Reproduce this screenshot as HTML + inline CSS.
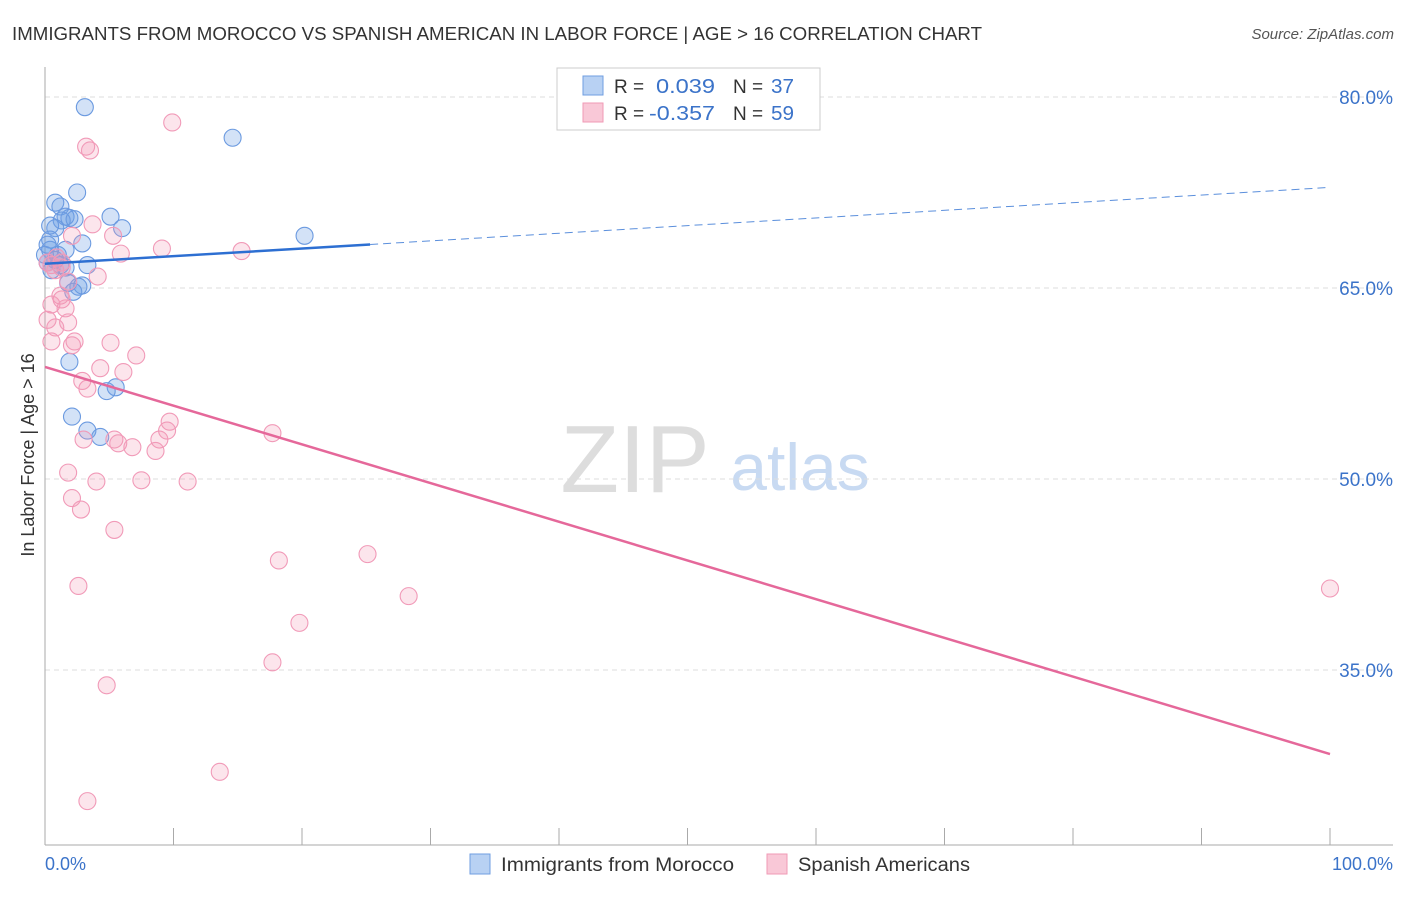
<!DOCTYPE html>
<html><head><meta charset="utf-8"><style>
body{margin:0;background:#fff;font-family:"Liberation Sans",sans-serif}
svg text{font-family:"Liberation Sans",sans-serif}
</style></head><body>
<svg width="1406" height="892">
<text x="12" y="40" font-size="18" fill="#333" textLength="970" lengthAdjust="spacingAndGlyphs">IMMIGRANTS FROM MOROCCO VS SPANISH AMERICAN IN LABOR FORCE | AGE &gt; 16 CORRELATION CHART</text>
<text x="1394" y="39" font-size="15" fill="#555" font-style="italic" text-anchor="end">Source: ZipAtlas.com</text>
<text x="635" y="492" font-size="96" fill="#ddd" font-family="Liberation Serif" text-anchor="middle">ZIP</text>
<text x="800" y="490" font-size="66" fill="#c8daf2" text-anchor="middle">atlas</text>
<g id="grid"></g><g id="axes"></g><g id="pts"></g><g id="lines"></g>
<text x="34" y="455" font-size="18" fill="#333" transform="rotate(-90 34 455)" text-anchor="middle">In Labor Force | Age &gt; 16</text>
<text x="45" y="870" font-size="18" fill="#3b73c9">0.0%</text>
<text x="1393" y="870" font-size="18" fill="#3b73c9" text-anchor="end">100.0%</text>
<g>
<rect x="557" y="68" width="263" height="62" fill="#fff" stroke="#ccc"/>
<rect x="583" y="76" width="20" height="19" fill="#b8d1f3" stroke="#6f9ee0"/>
<rect x="583" y="103" width="20" height="19" fill="#f9c8d7" stroke="#f09ab6"/>
<text x="614" y="93" font-size="19" fill="#333">R =</text>
<text x="656" y="93" font-size="20" fill="#3b73c9" textLength="59" lengthAdjust="spacingAndGlyphs">0.039</text>
<text x="733" y="93" font-size="19" fill="#333">N =</text>
<text x="771" y="93" font-size="20" fill="#3b73c9" textLength="23" lengthAdjust="spacingAndGlyphs">37</text>
<text x="614" y="120" font-size="19" fill="#333">R =</text>
<text x="649" y="120" font-size="20" fill="#3b73c9" textLength="66" lengthAdjust="spacingAndGlyphs">-0.357</text>
<text x="733" y="120" font-size="19" fill="#333">N =</text>
<text x="771" y="120" font-size="20" fill="#3b73c9" textLength="23" lengthAdjust="spacingAndGlyphs">59</text>
</g>
<g>
<rect x="470" y="854" width="20" height="20" fill="#b8d1f3" stroke="#6f9ee0"/>
<text x="501" y="871" font-size="19" fill="#333" textLength="233" lengthAdjust="spacingAndGlyphs">Immigrants from Morocco</text>
<rect x="767" y="854" width="20" height="20" fill="#f9c8d7" stroke="#f09ab6"/>
<text x="798" y="871" font-size="19" fill="#333" textLength="172" lengthAdjust="spacingAndGlyphs">Spanish Americans</text>
</g>
</svg>
<script>
const yTicks=[80,65,50,35];
const blueX=[3.1,14.6,2.5,0.8,1.2,1.6,1.9,1.3,2.3,5.1,6.0,0.8,0.4,2.9,1.6,0.4,1.0,0.8,0.2,3.3,1.6,1.8,2.9,2.6,2.2,20.2,1.9,2.1,5.5,4.8,3.3,4.3,0.4,0.2,1.2,0.5,0];
const blueY=[79.2,76.8,72.5,71.7,71.4,70.6,70.5,70.3,70.4,70.6,69.7,69.7,68.8,68.5,68.0,68.0,67.6,67.2,67.0,66.8,66.6,65.4,65.2,65.1,64.7,69.1,59.2,54.9,57.2,56.9,53.8,53.3,69.9,68.4,66.8,66.4,67.6];
const pinkX=[9.9,3.2,3.5,3.7,5.3,9.1,15.3,5.9,2.1,0.5,0.8,1.3,4.1,1.8,1.2,1.3,0.5,1.6,0.2,1.8,0.8,0.5,2.3,5.1,2.1,7.1,2.9,4.3,6.1,3.3,9.7,9.5,8.9,5.4,5.7,3.0,6.8,8.6,17.7,1.8,4.0,7.5,11.1,2.1,2.8,5.4,25.1,18.2,2.6,28.3,19.8,17.7,4.8,13.6,3.3,100,0.2,0.9,1.3];
const pinkY=[78.0,76.1,75.8,70.0,69.1,68.1,67.9,67.7,69.1,66.8,66.4,66.6,65.9,65.5,64.4,64.1,63.7,63.4,62.5,62.3,61.9,60.8,60.8,60.7,60.5,59.7,57.7,58.7,58.4,57.1,54.5,53.8,53.1,53.1,52.8,53.1,52.5,52.2,53.6,50.5,49.8,49.9,49.8,48.5,47.6,46.0,44.1,43.6,41.6,40.8,38.7,35.6,33.8,27.0,24.7,41.4,67.0,67.4,67.0];
const blueTrend=[66.9,72.9];
const pinkTrend=[58.8,28.4];
const NS="http://www.w3.org/2000/svg";
const sx=v=>45+v*12.85, sy=v=>97+(80-v)*12.733;
function mk(t,a,p){const e=document.createElementNS(NS,t);for(const k in a)e.setAttribute(k,a[k]);p.appendChild(e);return e;}
const grid=document.getElementById('grid'),axes=document.getElementById('axes'),pts=document.getElementById('pts'),lines=document.getElementById('lines');
yTicks.forEach(t=>{
 const l=mk('line',{x1:45,x2:1393,y1:sy(t),y2:sy(t),stroke:'#ddd','stroke-dasharray':'5,4'},grid);
 
 
 const tx=mk('text',{x:1393,y:sy(t)+7,'font-size':19,fill:'#3b73c9','text-anchor':'end'},grid);
 tx.textContent=t.toFixed(1)+'%';
 
 
});
const ya=mk('line',{x1:45,x2:45,y1:67,y2:845,stroke:'#aaa'},axes);


const xa=mk('line',{x1:45,x2:1393,y1:845,y2:845,stroke:'#aaa'},axes);


for(let i=0;i<=10;i++){const t=mk('line',{x1:sx(i*10),x2:sx(i*10),y1:828,y2:845,stroke:'#aaa'},axes);
 
 }
blueX.forEach((x,i)=>{const c=mk('circle',{cx:sx(x),cy:sy(blueY[i]),r:8.5,fill:'rgba(110,158,230,0.3)',stroke:'#6b9ae0','stroke-width':1.1},pts);
 
 });
pinkX.forEach((x,i)=>{const c=mk('circle',{cx:sx(x),cy:sy(pinkY[i]),r:8.5,fill:'rgba(244,150,180,0.25)',stroke:'#f19ab8','stroke-width':1.1},pts);
 
 });
const bAt=x=>blueTrend[0]+(blueTrend[1]-blueTrend[0])*x/100;
let l1=mk('line',{x1:sx(0),y1:sy(bAt(0)),x2:sx(25.3),y2:sy(bAt(25.3)),stroke:'#2d6fd2','stroke-width':2.5},lines);


let l2=mk('line',{x1:sx(25.3),y1:sy(bAt(25.3)),x2:sx(100),y2:sy(bAt(100)),stroke:'#5b8fdc','stroke-width':1,'stroke-dasharray':'8,5'},lines);


let l3=mk('line',{x1:sx(0),y1:sy(pinkTrend[0]),x2:sx(100),y2:sy(pinkTrend[1]),stroke:'#e5689a','stroke-width':2.5},lines);


</script>
</body></html>
